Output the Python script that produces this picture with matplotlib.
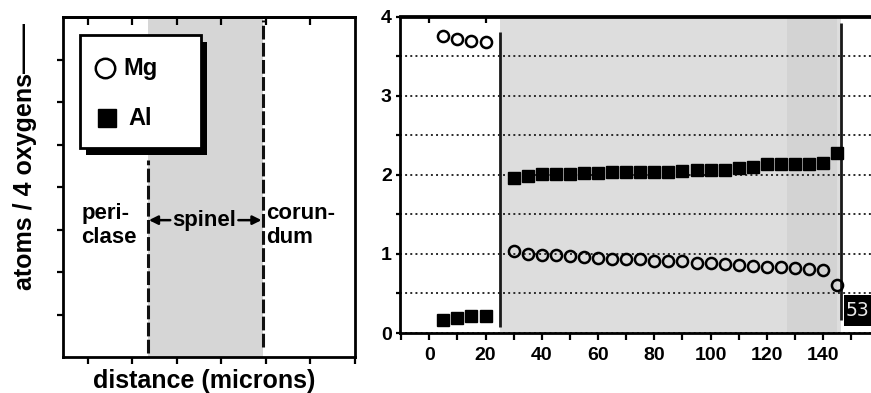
import matplotlib.pyplot as plt
import matplotlib.patches as mpatches
from matplotlib.ticker import MultipleLocator

plt.rcParams['font.family'] = ['Liberation Sans', 'DejaVu Sans']
plt.rcParams['font.weight'] = 'bold'

# --- data ---
# periclase side (left of the reaction front)
peri_x = [5, 10, 15, 20]
mg_peri = [3.75, 3.72, 3.69, 3.68]
al_peri = [0.17, 0.19, 0.22, 0.22]

# spinel layer
spinel_x = list(range(30, 150, 5))
mg_spinel = [1.04, 1.00, 0.99, 0.98, 0.97, 0.96, 0.945, 0.94, 0.94, 0.93, 0.915, 0.91,
             0.91, 0.89, 0.88, 0.87, 0.865, 0.85, 0.84, 0.83, 0.82, 0.81, 0.80, 0.61]
al_spinel = [1.965, 1.99, 2.01, 2.01, 2.01, 2.02, 2.02, 2.03, 2.035, 2.04, 2.04, 2.04,
             2.05, 2.06, 2.065, 2.065, 2.09, 2.10, 2.13, 2.13, 2.13, 2.14, 2.15, 2.27]

spinel_bounds = [25, 146.5]
dark_band = [127, 145]
x_labels = [0, 20, 40, 60, 80, 100, 120, 140]
y_labels = [0, 1, 2, 3, 4]

# schematic panel (arbitrary units)
sketch_bounds = [1.34, 3.93]
phase_names = ["peri-\nclase", "spinel", "corun-\ndum"]
series_names = ["Mg", "Al"]

fig = plt.figure(figsize=(8.71, 3.93), dpi=100)

# ================= left schematic panel =================
axl = fig.add_axes([63 / 871, 1 - 357 / 393, 292 / 871, 340 / 393])
axl.set_xlim(-0.56, 5.96)
axl.set_ylim(0, 8)
axl.axvspan(sketch_bounds[0], sketch_bounds[1], color='#d6d6d6', lw=0, zorder=0)
axl.plot([sketch_bounds[0]] * 2, [0.1, 4.64], color='#111111', lw=2.2, dashes=(4.5, 1.1))
axl.plot([sketch_bounds[1]] * 2, [0.24, 7.93], color='#111111', lw=2.2, dashes=(4.5, 1.1))

for s in axl.spines.values():
    s.set_linewidth(2)
axl.set_xticks(range(0, 7))
axl.set_yticks(range(1, 8))
axl.tick_params(axis='x', direction='out', length=5, width=1.6, labelbottom=False)
axl.tick_params(axis='y', direction='out', length=4, width=1.6, labelleft=False)
topl = axl.secondary_xaxis('top')
topl.set_xticks(range(0, 6))
topl.tick_params(direction='in', length=6, width=1.6, labeltop=False)
topl.spines['top'].set_linewidth(2)

# phase labels
axl.text(-0.15, 3.09, phase_names[0], ha='left', va='center', fontsize=16, linespacing=1.15)
axl.text(4.0, 3.09, phase_names[2], ha='left', va='center', fontsize=16, linespacing=1.15)
axl.text(2.61, 3.22, phase_names[1], ha='center', va='center', fontsize=16)
axl.annotate('', xy=(sketch_bounds[0] + 0.03, 3.22), xytext=(1.85, 3.22),
             arrowprops=dict(arrowstyle='-|>', color='k', lw=1.8, mutation_scale=13,
                             shrinkA=0, shrinkB=0))
axl.annotate('', xy=(sketch_bounds[1] - 0.03, 3.22), xytext=(3.38, 3.22),
             arrowprops=dict(arrowstyle='-|>', color='k', lw=1.8, mutation_scale=13,
                             shrinkA=0, shrinkB=0))

# legend box with drop shadow
axl.add_patch(mpatches.Rectangle((-0.04, 4.76), 2.72, 2.66, facecolor='black', lw=0, zorder=4))
axl.add_patch(mpatches.Rectangle((-0.18, 4.92), 2.72, 2.66, facecolor='white',
                                 edgecolor='black', lw=2, zorder=5))
axl.plot(0.38, 6.8, 'o', ms=14, mfc='white', mec='black', mew=1.8, zorder=6)
axl.plot(0.42, 5.63, 's', ms=13, mfc='black', mec='black', zorder=6)
axl.text(0.8, 6.8, series_names[0], ha='left', va='center', fontsize=17, zorder=6)
axl.text(0.92, 5.62, series_names[1], ha='left', va='center', fontsize=17, zorder=6)

# ================= right data panel =================
ax = fig.add_axes([400 / 871, 1 - 333 / 393, 471 / 871, 316.5 / 393])
ax.set_xlim(-10.4, 157)
ax.set_ylim(0, 4)
ax.axvspan(spinel_bounds[0], spinel_bounds[1], color='#dddddd', lw=0, zorder=0.1)
ax.axvspan(dark_band[0], dark_band[1], color='#d3d3d3', lw=0, zorder=0.2)
ax.vlines(spinel_bounds[0], 0.08, 3.81, color='#1a1a1a', lw=2, zorder=2)
ax.vlines(spinel_bounds[1], 0.16, 3.92, color='#1a1a1a', lw=2, zorder=2)

ax.plot(peri_x, mg_peri, 'o', ms=8, mfc='none', mec='black', mew=1.8, zorder=3)
ax.plot(peri_x, al_peri, 's', ms=9, mfc='black', mec='black', zorder=3)
ax.plot(spinel_x, mg_spinel, 'o', ms=8, mfc='none', mec='black', mew=1.8, zorder=3)
ax.plot(spinel_x, al_spinel, 's', ms=9, mfc='black', mec='black', zorder=3)

# scale label at the lower right edge
ax.add_patch(mpatches.Rectangle((147.4, 0.09), 12, 0.39, facecolor='black', lw=0, zorder=4))
ax.text(147.8, 0.28, "53", color='#e8e8e8', fontsize=13.5, fontweight='normal',
        family='DejaVu Sans', ha='left', va='center', zorder=5)

ax.set_xticks(x_labels)
ax.xaxis.set_minor_locator(MultipleLocator(10))
ax.set_yticks(y_labels)
ax.yaxis.set_minor_locator(MultipleLocator(0.5))
ax.yaxis.grid(True, which='both', linestyle=':', color='#2a2a2a', lw=1.4)
ax.tick_params(axis='x', which='both', direction='out', length=5, width=1.6,
               labelsize=14, pad=5)
ax.tick_params(axis='y', which='both', direction='out', length=3, width=1.6,
               labelsize=14, pad=3)
ax.spines['right'].set_visible(False)
for k in ['left', 'bottom', 'top']:
    ax.spines[k].set_linewidth(2)
topr = ax.secondary_xaxis('top')
topr.set_xticks(x_labels)
topr.tick_params(direction='in', length=5, width=1.6, labeltop=False)
topr.spines['top'].set_linewidth(2)

fig.text(25 / 871, 1 - 157 / 393, "atoms / 4 oxygens\u2014\u2014", rotation=90,
         ha='center', va='center', fontsize=18)
fig.text(204 / 871, 1 - 381 / 393, "distance (microns)", ha='center', va='center',
         fontsize=18)

fig.savefig('out.png', dpi=100)
